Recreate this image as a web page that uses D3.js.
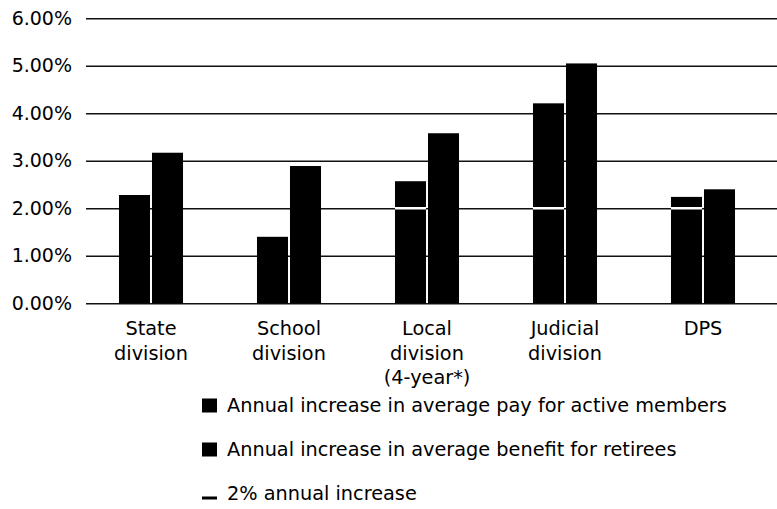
<!DOCTYPE html>
<html>
<head>
<meta charset="utf-8">
<script src="https://cdn.jsdelivr.net/npm/d3@7"></script>
<style>
  body { margin: 0; background: #fff; }
  text { font-family: "DejaVu Sans", sans-serif; fill: #000; }
</style>
</head>
<body>
<div id="chart"></div>
<script>
var categories = [["State", "division"], ["School", "division"], ["Local", "division", "(4-year*)"], ["Judicial", "division"], ["DPS"]];
var payIncrease = [2.28, 1.40, 2.57, 4.21, 2.24];
var benefitIncrease = [3.17, 2.89, 3.58, 5.05, 2.40];
var twoPercent = [null, null, 2, 2, 2];
var yTicks = [0, 1, 2, 3, 4, 5, 6];
var legendLabels = ["Annual increase in average pay for active members", "Annual increase in average benefit for retirees", "2% annual increase"];

var width = 777,
    height = 509;

var svg = d3.select("#chart").append("svg")
    .attr("width", width)
    .attr("height", height);

var names = categories.map(function(c) { return c.join(" "); });

var x0 = d3.scaleBand()
    .domain(names)
    .range([82, 772])
    .paddingInner(0.536)
    .paddingOuter(0.268);

var x1 = d3.scaleBand()
    .domain(["pay", "benefit"])
    .range([0, x0.bandwidth()])
    .paddingInner(0.06);

var y = d3.scaleLinear()
    .domain([0, 6])
    .range([303.3, 18.3]);

// gridlines + tick labels
var yAxis = d3.axisLeft(y)
    .tickValues(yTicks)
    .tickSize(-(width - 86))
    .tickPadding(14)
    .tickFormat(function(d) { return d.toFixed(2) + "%"; });

var ga = svg.append("g")
    .attr("transform", "translate(86,0)")
    .call(yAxis);
ga.select(".domain").remove();
ga.selectAll("line").attr("stroke", "#111").attr("stroke-width", 1.6);
ga.selectAll("text")
    .style("font-family", "'DejaVu Sans', sans-serif")
    .style("font-size", "19px")
    .attr("fill", "#000");

var rows = names.map(function(n, i) {
    return { name: n, lines: categories[i], pay: payIncrease[i], benefit: benefitIncrease[i], two: twoPercent[i] };
});

var groups = svg.selectAll(".grp")
    .data(rows)
    .enter()
    .append("g")
    .attr("transform", function(d) { return "translate(" + x0(d.name) + ",0)"; });

groups.selectAll("rect")
    .data(function(d) { return [{ k: "pay", v: d.pay }, { k: "benefit", v: d.benefit }]; })
    .enter()
    .append("rect")
    .attr("x", function(d) { return x1(d.k); })
    .attr("y", function(d) { return y(d.v); })
    .attr("width", x1.bandwidth())
    .attr("height", function(d) { return y(0) - y(d.v); })
    .style("fill", "#000");

// 2% marker across the pay bar
groups.filter(function(d) { return d.two != null; })
    .append("line")
    .attr("x1", x1("pay"))
    .attr("x2", x1("pay") + x1.bandwidth())
    .attr("y1", function(d) { return y(d.two); })
    .attr("y2", function(d) { return y(d.two); })
    .attr("stroke", "#fff")
    .attr("stroke-width", 2.5);

// category labels
groups.append("text")
    .attr("text-anchor", "middle")
    .attr("x", x0.bandwidth() / 2)
    .attr("y", 335)
    .style("font-size", "19.3px")
    .selectAll("tspan")
    .data(function(d) { return d.lines; })
    .enter()
    .append("tspan")
    .attr("x", x0.bandwidth() / 2)
    .attr("dy", function(d, i) { return i == 0 ? 0 : 24.5; })
    .text(function(d) { return d; });

// legend
var legend = svg.selectAll(".leg")
    .data(legendLabels)
    .enter()
    .append("g")
    .attr("transform", function(d, i) { return "translate(202," + (412 + i * 44) + ")"; });

legend.filter(function(d, i) { return i < 2; })
    .append("rect")
    .attr("x", 0)
    .attr("y", -13.5)
    .attr("width", 15)
    .attr("height", 14)
    .style("fill", "#000");

legend.filter(function(d, i) { return i == 2; })
    .append("line")
    .attr("x1", 0)
    .attr("x2", 15)
    .attr("y1", -2)
    .attr("y2", -2)
    .attr("stroke", "#000")
    .attr("stroke-width", 3);

legend.append("text")
    .attr("x", 25)
    .attr("y", 0)
    .style("font-size", "19.3px")
    .text(function(d) { return d; });
</script>
</body>
</html>
